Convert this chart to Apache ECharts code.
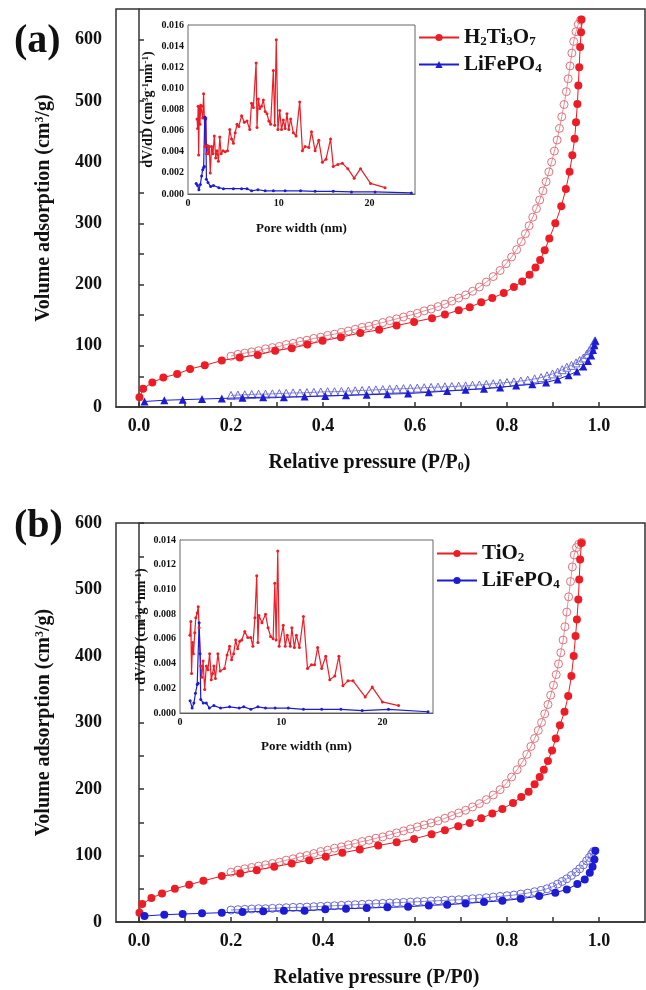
<!DOCTYPE html>
<html>
<head>
<meta charset="utf-8">
<script src="https://cdn.jsdelivr.net/npm/echarts@6/dist/echarts.min.js"></script>
<style>
  html, body { margin: 0; padding: 0; background: #fff; }
  #chart { width: 646px; height: 990px; }
</style>
</head>
<body>
<div id="chart"></div>
<script>
// tick values
const xTicks = [0, 0.1, 0.2, 0.3, 0.4, 0.5, 0.6, 0.7, 0.8, 0.9, 1.0]
const xLabels = [0, 0.2, 0.4, 0.6, 0.8, 1.0]
const yTicksA = [0, 50, 100, 150, 200, 250, 300, 350, 400, 450, 500, 550, 600]
const yLabels = [0, 100, 200, 300, 400, 500, 600]
const poreTicks = [0, 5, 10, 15, 20]
const poreLabels = [0, 10, 20]
const dvTicksA = [0, 0.001, 0.002, 0.003, 0.004, 0.005, 0.006, 0.007, 0.008, 0.009, 0.01, 0.011, 0.012, 0.013, 0.014, 0.015, 0.016]
const dvLabelsA = [0, 0.002, 0.004, 0.006, 0.008, 0.01, 0.012, 0.014, 0.016]
const dvTicksB = [0, 0.001, 0.002, 0.003, 0.004, 0.005, 0.006, 0.007, 0.008, 0.009, 0.01, 0.011, 0.012, 0.013, 0.014]
const dvLabelsB = [0, 0.002, 0.004, 0.006, 0.008, 0.01, 0.012, 0.014]

// (a) isotherms [P/P0, cm3/g]
const h2tAds = [[0.001,16],[0.009,30],[0.029,40],[0.053,48],[0.083,54],[0.111,62],[0.143,68],[0.180,76],[0.219,81],[0.258,85],[0.296,92],[0.332,96],[0.366,102],[0.399,108],[0.439,114],[0.481,121],[0.522,126],[0.560,133],[0.598,139],[0.637,145],[0.665,151],[0.695,158],[0.719,163],[0.744,171],[0.768,178],[0.793,186],[0.815,196],[0.833,205],[0.849,216],[0.862,228],[0.872,240],[0.882,256],[0.892,275],[0.905,300],[0.918,328],[0.928,356],[0.936,384],[0.942,411],[0.947,438],[0.950,465],[0.953,495],[0.955,525],[0.957,555],[0.959,588],[0.961,612],[0.962,633]]
const h2tDes = [[0.200,83],[0.215,86],[0.230,88],[0.245,90],[0.260,92],[0.275,95],[0.290,97],[0.305,99],[0.320,102],[0.335,104],[0.350,107],[0.365,109],[0.380,112],[0.395,114],[0.410,117],[0.425,119],[0.440,122],[0.455,124],[0.470,127],[0.485,130],[0.500,132],[0.515,135],[0.530,138],[0.545,141],[0.560,144],[0.575,147],[0.590,150],[0.605,153],[0.620,157],[0.635,160],[0.650,164],[0.665,168],[0.680,173],[0.695,178],[0.710,183],[0.725,189],[0.740,196],[0.755,204],[0.770,213],[0.785,223],[0.798,234],[0.810,245],[0.821,257],[0.831,270],[0.840,283],[0.848,296],[0.856,310],[0.864,324],[0.871,338],[0.878,353],[0.885,368],[0.891,384],[0.897,400],[0.903,418],[0.909,436],[0.914,455],[0.919,474],[0.924,494],[0.929,515],[0.933,536],[0.937,557],[0.941,578],[0.945,597],[0.950,613],[0.955,625],[0.960,632]]
const lfpAdsA = [[0.012,9],[0.055,11],[0.095,12],[0.137,13],[0.180,14],[0.225,15],[0.270,16],[0.315,16],[0.360,17],[0.405,18],[0.450,19],[0.495,20],[0.540,21],[0.585,22],[0.630,24],[0.670,26],[0.710,28],[0.750,30],[0.785,32],[0.820,35],[0.855,37],[0.885,40],[0.910,45],[0.934,52],[0.952,58],[0.966,66],[0.976,75],[0.983,84],[0.987,93],[0.990,101],[0.992,108]]
const lfpDesA = [[0.200,19],[0.215,19.5],[0.230,20],[0.245,20.5],[0.260,21],[0.275,21],[0.290,21.5],[0.305,22],[0.320,22.5],[0.335,23],[0.350,23],[0.365,23.5],[0.380,24],[0.395,24.5],[0.410,25],[0.425,25],[0.440,25.5],[0.455,26],[0.470,26.5],[0.485,27],[0.500,27.5],[0.515,28],[0.530,28.5],[0.545,29],[0.560,29.5],[0.575,30],[0.590,30.5],[0.605,31],[0.620,31.5],[0.635,32],[0.650,32.5],[0.665,33],[0.680,33.5],[0.695,34],[0.710,34.5],[0.725,35.5],[0.740,36],[0.755,37],[0.770,38],[0.785,39],[0.800,40],[0.815,41],[0.830,42.5],[0.845,44],[0.860,46],[0.874,48],[0.887,51],[0.899,54],[0.910,57],[0.920,61],[0.930,65],[0.940,68],[0.950,72],[0.958,76],[0.966,80],[0.973,86],[0.979,92],[0.984,98],[0.988,103],[0.991,108]]

// (b) isotherms
const tioAds = [[0.001,14],[0.007,27],[0.027,36],[0.050,43],[0.078,50],[0.109,56],[0.140,62],[0.180,69],[0.220,73],[0.256,78],[0.294,83],[0.332,88],[0.370,93],[0.406,98],[0.442,104],[0.480,109],[0.520,115],[0.560,120],[0.598,125],[0.636,132],[0.665,138],[0.694,144],[0.719,149],[0.744,156],[0.768,163],[0.790,170],[0.813,179],[0.831,188],[0.847,196],[0.860,207],[0.871,218],[0.880,229],[0.889,242],[0.898,258],[0.906,276],[0.915,296],[0.925,316],[0.933,340],[0.940,370],[0.945,400],[0.949,430],[0.952,455],[0.955,485],[0.957,515],[0.959,545],[0.962,570]]
const tioDes = [[0.200,75],[0.215,78],[0.230,80],[0.245,82],[0.260,84],[0.275,86],[0.290,88],[0.305,90],[0.320,93],[0.335,95],[0.350,98],[0.365,100],[0.380,103],[0.395,106],[0.410,108],[0.425,111],[0.440,113],[0.455,116],[0.470,118],[0.485,121],[0.500,123],[0.515,126],[0.530,128],[0.545,131],[0.560,134],[0.575,137],[0.590,140],[0.605,143],[0.620,146],[0.635,149],[0.650,152],[0.665,156],[0.680,160],[0.695,164],[0.710,168],[0.725,173],[0.740,178],[0.755,184],[0.770,191],[0.785,199],[0.798,208],[0.810,218],[0.822,229],[0.833,240],[0.843,252],[0.852,264],[0.860,276],[0.868,288],[0.875,300],[0.882,313],[0.889,327],[0.895,341],[0.901,356],[0.907,372],[0.912,388],[0.917,405],[0.922,424],[0.926,444],[0.930,466],[0.934,489],[0.938,512],[0.942,534],[0.946,552],[0.951,563],[0.956,568],[0.962,571]]
const lfpAdsB = [[0.012,9],[0.055,11],[0.095,12],[0.137,13],[0.180,14],[0.225,15],[0.270,16],[0.315,17],[0.360,17],[0.405,19],[0.450,20],[0.495,21],[0.540,22],[0.585,23],[0.630,25],[0.670,26],[0.710,28],[0.750,30],[0.790,32],[0.830,35],[0.870,39],[0.905,44],[0.930,49],[0.953,57],[0.969,64],[0.980,74],[0.986,83],[0.990,94],[0.992,107]]
const lfpDesB = [[0.200,18],[0.215,18.5],[0.230,19],[0.245,19.5],[0.260,20],[0.275,20],[0.290,20.5],[0.305,21],[0.320,21.5],[0.335,22],[0.350,22],[0.365,22.5],[0.380,23],[0.395,23.5],[0.410,24],[0.425,24.5],[0.440,25],[0.455,25.5],[0.470,26],[0.485,26.5],[0.500,27],[0.515,27.5],[0.530,28],[0.545,28.5],[0.560,29],[0.575,29.5],[0.590,30],[0.605,30.5],[0.620,31],[0.635,31.5],[0.650,32],[0.665,32.5],[0.680,33],[0.695,33.5],[0.710,34],[0.725,35],[0.740,35.5],[0.755,36.5],[0.770,37.5],[0.785,38.5],[0.800,39.5],[0.815,40.5],[0.830,42],[0.845,43.5],[0.860,45.5],[0.874,47.5],[0.887,50],[0.899,53],[0.910,57],[0.920,61],[0.930,65],[0.940,70],[0.950,75],[0.958,80],[0.966,86],[0.973,92],[0.979,97],[0.984,102],[0.988,106]]

// pore size distributions [nm, dV/dD]
const psdH2t = [[1.0,0.0071],[1.06,0.0062],[1.12,0.0083],[1.17,0.0037],[1.25,0.0082],[1.32,0.0066],[1.4,0.0084],[1.54,0.0083],[1.62,0.0072],[1.72,0.0095],[1.8,0.0072],[1.88,0.0045],[1.96,0.0072],[2.05,0.0038],[2.15,0.0046],[2.25,0.0038],[2.35,0.0045],[2.45,0.0020],[2.6,0.0045],[2.75,0.0038],[2.9,0.0055],[3.05,0.0034],[3.2,0.0041],[3.35,0.0031],[3.5,0.0054],[3.65,0.0038],[3.85,0.0041],[4.1,0.0040],[4.35,0.0041],[4.6,0.0061],[4.8,0.0052],[5.0,0.0048],[5.2,0.0058],[5.4,0.0066],[5.6,0.0064],[5.9,0.0074],[6.2,0.0068],[6.5,0.0069],[6.8,0.0061],[7.0,0.0086],[7.2,0.0082],[7.5,0.0124],[7.6,0.0063],[7.75,0.0090],[7.9,0.0081],[8.1,0.0083],[8.3,0.0089],[8.5,0.0078],[8.7,0.0076],[8.9,0.0069],[9.1,0.0066],[9.4,0.0117],[9.55,0.0065],[9.72,0.0146],[9.9,0.0061],[10.1,0.0079],[10.3,0.0061],[10.5,0.0070],[10.7,0.0062],[10.9,0.0076],[11.1,0.0061],[11.3,0.0071],[11.6,0.0058],[11.9,0.0055],[12.3,0.0087],[12.6,0.0041],[12.9,0.0045],[13.3,0.0044],[13.6,0.0059],[14.0,0.0041],[14.4,0.0051],[14.8,0.0030],[15.2,0.0033],[15.7,0.0052],[16.0,0.0026],[16.5,0.0028],[17.0,0.0029],[17.6,0.0024],[18.3,0.0015],[19.0,0.0024],[20.1,0.0010],[21.7,0.0006]]
const psdLfpA = [[0.9,0.0010],[1.05,0.0008],[1.2,0.0004],[1.36,0.0009],[1.5,0.0017],[1.62,0.0023],[1.72,0.0025],[1.8,0.0026],[1.85,0.0073],[1.95,0.0071],[2.03,0.0014],[2.2,0.0011],[2.5,0.0007],[2.8,0.0008],[3.4,0.0006],[3.9,0.0005],[5.0,0.0005],[5.9,0.0005],[6.5,0.0005],[7.0,0.0003],[7.7,0.0004],[8.5,0.0003],[9.4,0.0003],[10.7,0.0003],[12.4,0.0003],[14.0,0.00025],[16.0,0.00025],[18.0,0.0002],[20.6,0.0002],[24.6,0.0001]]
const psdTio = [[0.98,0.0063],[1.07,0.0074],[1.14,0.0032],[1.24,0.0057],[1.33,0.0048],[1.46,0.0065],[1.56,0.0077],[1.7,0.0081],[1.8,0.0086],[1.89,0.0069],[2.05,0.0038],[2.15,0.0029],[2.28,0.0042],[2.44,0.0019],[2.6,0.0038],[2.76,0.0035],[2.93,0.0048],[3.09,0.0027],[3.22,0.0032],[3.35,0.0038],[3.5,0.0028],[3.74,0.0048],[3.97,0.0034],[4.4,0.0036],[4.65,0.0047],[4.9,0.0054],[5.1,0.0043],[5.3,0.0048],[5.5,0.0059],[5.7,0.0052],[5.9,0.0058],[6.1,0.0059],[6.4,0.0066],[6.7,0.0061],[7.0,0.0061],[7.2,0.0054],[7.4,0.0077],[7.58,0.0111],[7.7,0.0057],[7.8,0.0079],[8.1,0.0073],[8.45,0.0080],[8.7,0.0069],[8.95,0.0062],[9.2,0.0060],[9.37,0.0105],[9.5,0.0059],[9.66,0.0131],[9.8,0.0054],[10.2,0.0071],[10.4,0.0054],[10.6,0.0063],[10.9,0.0054],[11.05,0.0069],[11.3,0.0053],[11.5,0.0063],[11.8,0.0053],[12.2,0.0078],[12.6,0.0036],[13.0,0.0039],[13.3,0.0039],[13.6,0.0053],[14.0,0.0036],[14.4,0.0046],[14.8,0.0027],[15.3,0.0030],[15.7,0.0046],[16.1,0.0022],[16.6,0.0026],[17.1,0.0026],[18.3,0.0013],[19.0,0.0021],[20.0,0.0009],[21.6,0.0006]]
const psdLfpB = [[1.0,0.0010],[1.2,0.0004],[1.37,0.0008],[1.53,0.0016],[1.7,0.0023],[1.79,0.0024],[1.89,0.0073],[1.98,0.0048],[2.05,0.0011],[2.3,0.0008],[2.6,0.0008],[2.9,0.0004],[3.35,0.0006],[4.0,0.0004],[4.9,0.0005],[5.85,0.0004],[6.3,0.0005],[7.0,0.0003],[7.7,0.0005],[8.45,0.0004],[9.4,0.0004],[10.7,0.0004],[12.2,0.0003],[14.0,0.0003],[15.9,0.0003],[18.0,0.0002],[20.6,0.0003],[24.5,0.0001]]

const legendText = {
  'H2Ti3O7': '{m|H}{s|2}{m|Ti}{s|3}{m|O}{s|7}',
  'LiFePO4-a': '{m|LiFePO}{s|4}',
  'TiO2': '{m|TiO}{s|2}',
  'LiFePO4-b': '{m|LiFePO}{s|4}'
}

const FONT = '"Liberation Serif", "Times New Roman", serif'
const RED = '#ee1c24'
const PINK = '#e4707c'
const BLUE = '#1c1cd6'
const LBLUE = '#6a6ad8'
const AXIS = '#333'

const richText = size => ({
  m: { fontSize: size, fontWeight: 'bold', fontFamily: FONT, color: '#111', verticalAlign: 'bottom' },
  s: { fontSize: Math.round(size * 0.62), fontWeight: 'bold', fontFamily: FONT, color: '#111', verticalAlign: 'bottom' },
  sup: { fontSize: Math.round(size * 0.62), fontWeight: 'bold', fontFamily: FONT, color: '#111', verticalAlign: 'top' }
})

// 主圖座標軸
function mainX(gridIndex, name, shift) {
  return {
    type: 'value', gridIndex, min: -0.05, max: 1.1,
    name, nameLocation: 'middle', nameGap: 46,
    nameTextStyle: { rich: richText(20), padding: [0, shift, 0, 0] },
    axisLine: { lineStyle: { color: AXIS, width: 1.5 } },
    axisTick: { inside: true, length: 5, customValues: xTicks, lineStyle: { color: AXIS, width: 1.5 } },
    axisLabel: { customValues: xLabels, formatter: v => v.toFixed(1), fontSize: 18, fontWeight: 'bold', fontFamily: FONT, color: '#111', margin: 10 },
    splitLine: { show: false }
  }
}

function mainY(gridIndex, max) {
  return {
    type: 'value', gridIndex, min: 0, max,
    name: '{m|Volume adsorption (cm}{sup|3}{m|/g)}', nameLocation: 'middle', nameGap: 62,
    nameTextStyle: { rich: richText(20) },
    axisLine: { lineStyle: { color: AXIS, width: 1.5 } },
    axisTick: { inside: true, length: 5, customValues: yTicksA.filter(v => v <= max), lineStyle: { color: AXIS, width: 1.5 } },
    axisLabel: { customValues: yLabels.filter(v => v <= max), fontSize: 18, fontWeight: 'bold', fontFamily: FONT, color: '#111', margin: 14 },
    splitLine: { show: false }
  }
}

// 插圖座標軸
function insetX(gridIndex, gap) {
  return {
    type: 'value', gridIndex, min: 0, max: 25,
    name: '{m|Pore width (nm)}', nameLocation: 'middle', nameGap: gap,
    nameTextStyle: { rich: richText(13) },
    axisLine: { lineStyle: { color: '#555', width: 1 } },
    axisTick: { inside: true, length: 3, customValues: poreTicks, lineStyle: { color: '#555' } },
    axisLabel: { customValues: poreLabels, fontSize: 10, fontWeight: 'bold', fontFamily: FONT, color: '#111', margin: 4 },
    splitLine: { show: false }
  }
}

function insetY(gridIndex, max, ticks, labels, gap) {
  return {
    type: 'value', gridIndex, min: 0, max,
    name: '{m|dV/dD (cm}{sup|3}{m|g}{sup|-1}{m|nm}{sup|-1}{m|)}', nameLocation: 'middle', nameGap: gap,
    nameTextStyle: { rich: richText(14) },
    axisLine: { lineStyle: { color: '#555', width: 1 } },
    axisTick: { inside: true, length: 3, customValues: ticks, lineStyle: { color: '#555' } },
    axisLabel: { customValues: labels, formatter: v => v.toFixed(3), fontSize: 10, fontWeight: 'bold', fontFamily: FONT, color: '#111', margin: 4 },
    splitLine: { show: false }
  }
}

function filled(name, data, axis, color, symbol) {
  return {
    type: 'line', name, data, xAxisIndex: axis, yAxisIndex: axis,
    symbol, symbolSize: 8, lineStyle: { color, width: 1 },
    itemStyle: { color }, z: 4, animation: false
  }
}

function hollow(name, data, axis, color, symbol) {
  return {
    type: 'line', name, data, xAxisIndex: axis, yAxisIndex: axis,
    symbol, symbolSize: 8, lineStyle: { color, width: 0.8 },
    itemStyle: { color: 'rgba(255,255,255,0)', borderColor: color, borderWidth: 1 }, z: 3, animation: false
  }
}

function psd(name, data, axis, color) {
  return {
    type: 'line', name, data, xAxisIndex: axis, yAxisIndex: axis,
    symbol: 'circle', symbolSize: 3, lineStyle: { color, width: 1.2 },
    itemStyle: { color }, z: 6, animation: false
  }
}

function legendAt(left, top, names) {
  return {
    data: names, orient: 'vertical', left, top, itemWidth: 40, itemHeight: 9, itemGap: 6,
    selectedMode: false, formatter: n => legendText[n],
    textStyle: { rich: richText(21) }
  }
}

const chart = echarts.init(document.getElementById('chart'), null, { renderer: 'canvas' })

chart.setOption({
  backgroundColor: '#fff',
  animation: false,
  grid: [
    { left: 116, top: 9, width: 529, height: 398, show: true, borderColor: AXIS, borderWidth: 1.5 },
    { left: 188, top: 25, width: 227, height: 169, show: true, borderColor: '#666', borderWidth: 1, backgroundColor: '#fff', z: 5 },
    { left: 116, top: 523, width: 529, height: 399, show: true, borderColor: AXIS, borderWidth: 1.5 },
    { left: 180, top: 540, width: 253, height: 173, show: true, borderColor: '#666', borderWidth: 1, backgroundColor: '#fff', z: 5 }
  ],
  xAxis: [
    mainX(0, '{m|Relative pressure (P/P}{s|0}{m|)}', 22),
    insetX(1, 28),
    mainX(2, '{m|Relative pressure (P/P0)}', 8),
    insetX(3, 27)
  ],
  yAxis: [
    mainY(0, 650),
    insetY(1, 0.016, dvTicksA, dvLabelsA, 33),
    mainY(2, 600),
    insetY(3, 0.014, dvTicksB, dvLabelsB, 32)
  ],
  legend: [
    legendAt(413, 22, ['H2Ti3O7', 'LiFePO4-a']),
    legendAt(431, 538, ['TiO2', 'LiFePO4-b'])
  ],
  graphic: [
    { type: 'text', left: 14, top: 22, style: { text: '(a)', font: 'bold 40px ' + FONT, fill: '#111' } },
    { type: 'text', left: 14, top: 507, style: { text: '(b)', font: 'bold 40px ' + FONT, fill: '#111' } }
  ],
  series: [
    hollow('H2Ti3O7 des', h2tDes, 0, PINK, 'circle'),
    filled('H2Ti3O7', h2tAds, 0, RED, 'circle'),
    hollow('LiFePO4-a des', lfpDesA, 0, LBLUE, 'triangle'),
    filled('LiFePO4-a', lfpAdsA, 0, BLUE, 'triangle'),
    psd('H2Ti3O7 psd', psdH2t, 1, RED),
    psd('LiFePO4-a psd', psdLfpA, 1, BLUE),
    hollow('TiO2 des', tioDes, 2, PINK, 'circle'),
    filled('TiO2', tioAds, 2, RED, 'circle'),
    hollow('LiFePO4-b des', lfpDesB, 2, LBLUE, 'circle'),
    filled('LiFePO4-b', lfpAdsB, 2, BLUE, 'circle'),
    psd('TiO2 psd', psdTio, 3, RED),
    psd('LiFePO4-b psd', psdLfpB, 3, BLUE)
  ]
})
</script>
</body>
</html>
